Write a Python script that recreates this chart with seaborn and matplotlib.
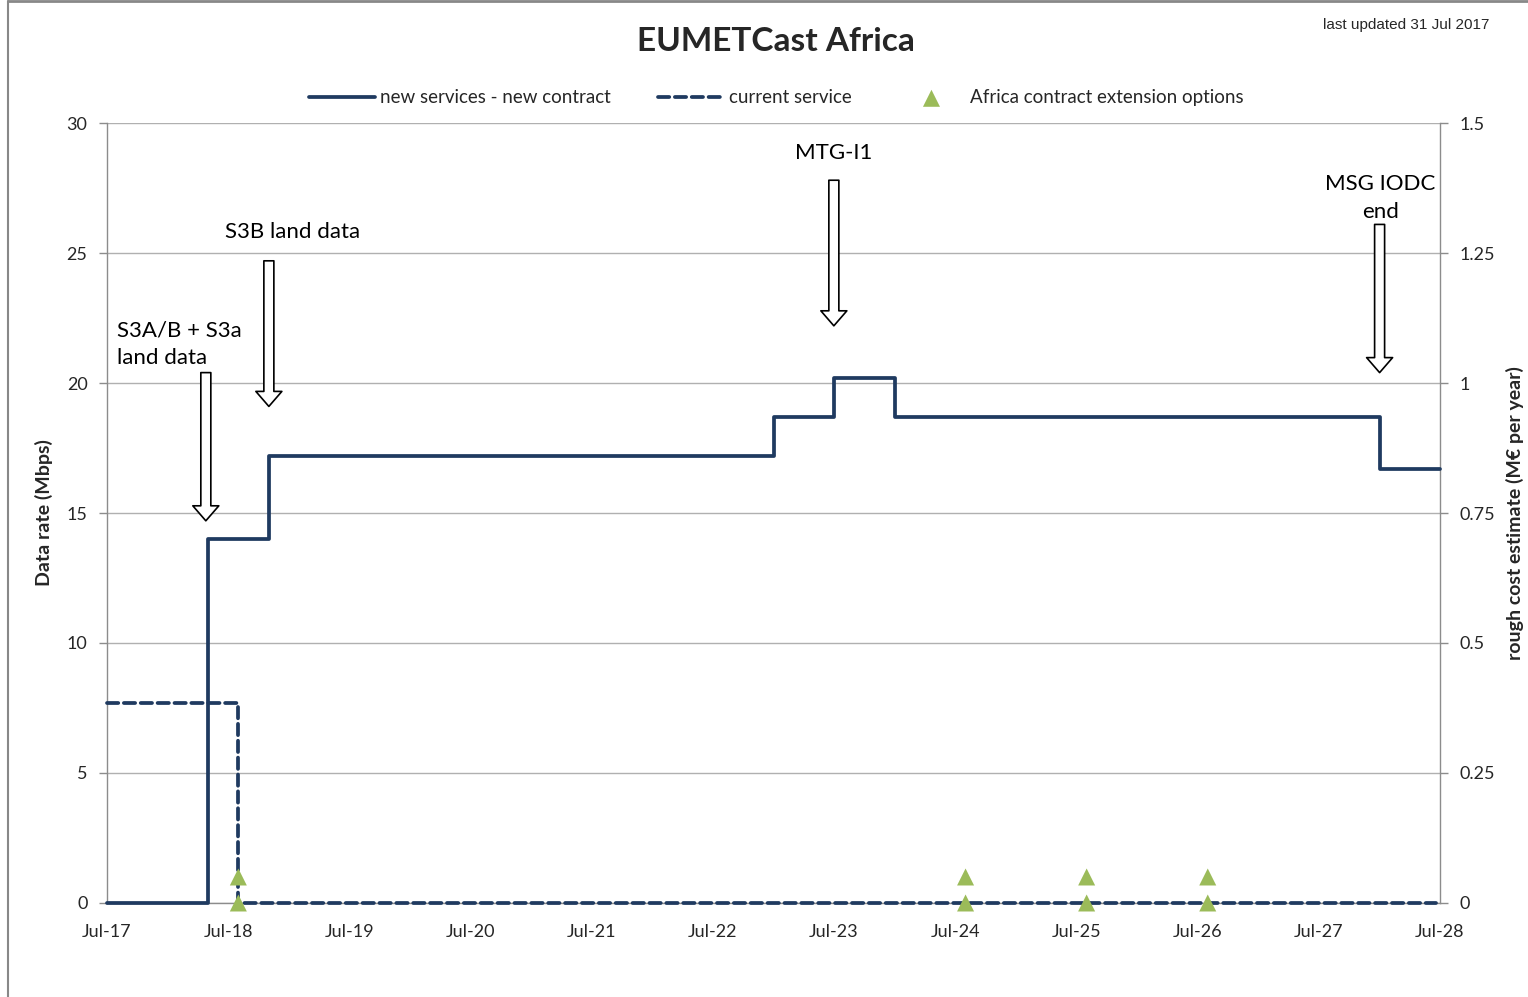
import pandas as pd
import matplotlib.pyplot as plt
import matplotlib.dates as mdates
from matplotlib.lines import Line2D
import seaborn as sns

# data
new_dates = ['2017-07-01', '2018-05-01', '2018-11-01', '2023-01-01',
             '2023-07-01', '2024-01-01', '2028-01-01', '2028-07-01']
new_rate = [0, 14, 17.2, 18.7, 20.2, 18.7, 16.7, 16.7]

cur_dates = ['2017-07-01', '2018-08-01', '2028-06-20']
cur_rate = [7.7, 0, 0]

opt_dates = ['2018-08-01', '2018-08-01', '2024-08-01', '2024-08-01',
             '2025-08-01', '2025-08-01', '2026-08-01', '2026-08-01']
opt_vals = [1, 0, 1, 0, 1, 0, 1, 0]

events = ['S3A/B + S3a\nland data', 'S3B land data', 'MTG-I1', 'MSG IODC\nend']
event_arrow_x = ['2018-04-25', '2018-11-01', '2023-07-01', '2028-01-01']
event_arrow_top = [20.4, 24.7, 27.8, 26.1]
event_arrow_tip = [14.7, 19.1, 22.2, 20.4]

sns.set_style('white')
plt.rcParams['font.family'] = ['Lato', 'DejaVu Sans']

navy = '#1F3A60'
green = '#9BBB59'
grey = '#8C8C8C'

new_df = pd.DataFrame({'date': pd.to_datetime(new_dates), 'rate': new_rate})
cur_df = pd.DataFrame({'date': pd.to_datetime(cur_dates), 'rate': cur_rate})
opt_df = pd.DataFrame({'date': pd.to_datetime(opt_dates), 'val': opt_vals})

fig = plt.figure(figsize=(15.28, 9.97), dpi=100)
ax = fig.add_axes([0.070, 0.0943, 0.8724, 0.7823])

sns.lineplot(data=new_df, x='date', y='rate', ax=ax, color=navy, lw=2.7,
             drawstyle='steps-post', label='new services - new contract',
             clip_on=False, zorder=4)
sns.lineplot(data=cur_df, x='date', y='rate', ax=ax, color=navy, lw=2.7,
             drawstyle='steps-post', label='current service',
             dashes=False, linestyle=(0, (3.0, 1.5)), dash_capstyle='round',
             clip_on=False, zorder=4)
sns.scatterplot(data=opt_df, x='date', y='val', ax=ax, color=green, marker='^',
                s=150, edgecolor='none', zorder=5, clip_on=False,
                label='Africa contract extension options')

ax.set_xlim(pd.Timestamp('2017-07-01'), pd.Timestamp('2028-07-01'))
ax.set_ylim(0, 30)
ax.set_yticks(range(0, 31, 5))
ax.xaxis.set_major_locator(mdates.MonthLocator(bymonth=7))
ax.xaxis.set_major_formatter(mdates.DateFormatter('%b-%y'))
ax.yaxis.grid(True, color='#B0B0B0', lw=1)
ax.set_axisbelow(True)
ax.tick_params(axis='both', labelsize=13, colors='#262626', length=6, width=1,
               direction='out', color=grey, pad=8)
ax.tick_params(axis='x', pad=9)
for s in ['left', 'right', 'bottom']:
    ax.spines[s].set_color(grey)
    ax.spines[s].set_linewidth(1)
ax.spines['top'].set_visible(False)
ax.set_xlabel('')
ax.set_ylabel('Data rate (Mbps)', fontsize=14, fontweight='bold', labelpad=10)

ax2 = ax.twinx()
ax2.set_ylim(0, 1.5)
ax2.set_yticks([0, 0.25, 0.5, 0.75, 1, 1.25, 1.5])
ax2.set_yticklabels(['0', '0.25', '0.5', '0.75', '1', '1.25', '1.5'])
ax2.tick_params(axis='y', labelsize=13, colors='#262626', length=6, width=1,
                color=grey, pad=8)
for s in ['left', 'right', 'bottom', 'top']:
    ax2.spines[s].set_visible(False)
ax2.set_ylabel('rough cost estimate (M\u20ac per year)', fontsize=14,
               fontweight='bold', labelpad=8)

# event arrows and labels
arrow_style = 'simple,head_length=1.5,head_width=2.6,tail_width=1.0'
for xs, top, tip in zip(event_arrow_x, event_arrow_top, event_arrow_tip):
    xv = mdates.date2num(pd.Timestamp(xs))
    ax.annotate('', xy=(xv, tip), xytext=(xv, top),
                arrowprops=dict(arrowstyle=arrow_style, fc='white', ec='black',
                                lw=1.2, mutation_scale=7.2, shrinkA=0, shrinkB=0))

lab_x = ['2017-08-01', '2019-01-10', '2023-07-01', '2028-01-04']
lab_y = [21.5, 25.8, 28.85, 27.1]
lab_ha = ['left', 'center', 'center', 'center']
for txt, xs, yv, ha in zip(events, lab_x, lab_y, lab_ha):
    ax.text(mdates.date2num(pd.Timestamp(xs)), yv, txt, ha=ha, va='center',
            fontsize=16, color='black', linespacing=1.5)

# legend
handles, labels = ax.get_legend_handles_labels()
ax.get_legend().remove()
fig.legend(handles, labels, loc='center', bbox_to_anchor=(0.508, 0.902), ncol=3,
           frameon=False, fontsize=13.5, handlelength=3.5, columnspacing=2.5,
           handletextpad=0.3)

fig.text(0.508, 0.958, 'EUMETCast Africa', ha='center', va='center',
         fontsize=24, fontweight='bold')
fig.text(0.975, 0.975, 'last updated 31 Jul 2017', ha='right', va='center',
         fontsize=11, family='Liberation Sans')

# outer frame (top and left edges visible)
fig.add_artist(Line2D([0.0052, 0.0052], [0, 0.999], transform=fig.transFigure,
                      color='#888888', lw=1.5))
fig.add_artist(Line2D([0.0052, 1], [0.999, 0.999], transform=fig.transFigure,
                      color='#888888', lw=2))

fig.savefig('out.png', dpi=100)
